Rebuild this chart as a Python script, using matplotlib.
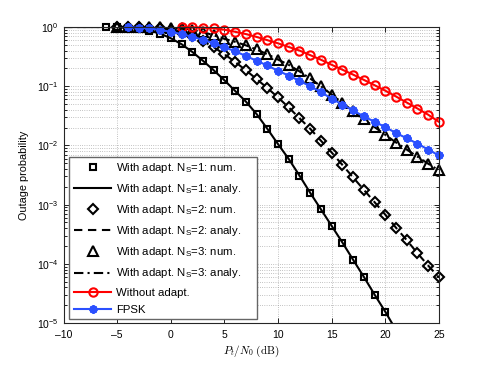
import matplotlib
matplotlib.use("Agg")
import matplotlib.pyplot as plt
from matplotlib.ticker import LogLocator, NullFormatter, FixedLocator

plt.rcParams['font.family'] = ['Liberation Sans', 'DejaVu Sans']
plt.rcParams['mathtext.fontset'] = 'custom'
plt.rcParams['mathtext.rm'] = 'Liberation Sans'
plt.rcParams['mathtext.it'] = 'Liberation Sans:italic'
plt.rcParams['mathtext.bf'] = 'Liberation Sans:bold'

# ---------------- data ----------------
x_ns1 = list(range(-6, 21))
ns1_num = [1.0, 0.99, 0.966, 0.933, 0.871, 0.776, 0.646, 0.513, 0.380, 0.269,
           0.186, 0.126, 0.0832, 0.0550, 0.0339, 0.0191, 0.0105, 0.00589,
           0.00309, 0.00158, 8.32e-4, 4.37e-4, 2.29e-4, 1.17e-4, 6.03e-5,
           3.02e-5, 1.55e-5]

x_ns1_an = list(range(-10, 22))
ns1_an = [1.0, 1.0, 1.0, 1.0, 1.0, 0.99, 0.966, 0.933, 0.871, 0.776, 0.646,
          0.513, 0.380, 0.269, 0.186, 0.126, 0.0832, 0.0550, 0.0339, 0.0191,
          0.0105, 0.00589, 0.00309, 0.00158, 8.32e-4, 4.37e-4, 2.29e-4,
          1.17e-4, 6.03e-5, 3.02e-5, 1.55e-5, 7.6e-6]

x_ns2 = list(range(-5, 26))
ns2_num = [1.0, 1.0, 0.99, 0.977, 0.944, 0.891, 0.794, 0.692, 0.575, 0.457,
           0.347, 0.257, 0.186, 0.132, 0.0933, 0.0646, 0.0437, 0.0288, 0.0191,
           0.0120, 0.00759, 0.00468, 0.00288, 0.00178, 0.00110, 6.76e-4,
           4.07e-4, 2.51e-4, 1.51e-4, 9.33e-5, 5.89e-5]

x_ns2_an = list(range(-10, 26))
ns2_an = [1.0, 1.0, 1.0, 1.0, 1.0, 1.0, 1.0, 0.99, 0.977, 0.944, 0.891, 0.794,
          0.692, 0.575, 0.457, 0.347, 0.257, 0.186, 0.132, 0.0933, 0.0646,
          0.0437, 0.0288, 0.0191, 0.0120, 0.00759, 0.00468, 0.00288, 0.00178,
          0.00110, 6.76e-4, 4.07e-4, 2.51e-4, 1.51e-4, 9.33e-5, 5.89e-5]

x_ns3 = list(range(-5, 26))
ns3_num = [1.0, 1.0, 1.0, 0.998, 0.995, 0.977, 0.955, 0.902, 0.822, 0.724,
           0.631, 0.562, 0.490, 0.417, 0.347, 0.282, 0.229, 0.178, 0.135, 0.1,
           0.0724, 0.0525, 0.038, 0.0275, 0.0204, 0.0151, 0.0112, 0.00851,
           0.00646, 0.0049, 0.0038]

x_ns3_an = list(range(-10, 26))
ns3_an = [1.0, 1.0, 1.0, 1.0, 1.0, 1.0, 1.0, 1.0, 0.998, 0.995, 0.977, 0.955,
          0.902, 0.822, 0.724, 0.631, 0.562, 0.490, 0.417, 0.347, 0.282,
          0.229, 0.178, 0.135, 0.1, 0.0724, 0.0525, 0.038, 0.0275, 0.0204,
          0.0151, 0.0112, 0.00851, 0.00646, 0.0049, 0.0038]

x_noad = list(range(1, 26))
noad = [1.0, 0.99, 0.975, 0.95, 0.9, 0.83, 0.76, 0.68, 0.6, 0.53, 0.46, 0.40,
        0.335, 0.28, 0.23, 0.19, 0.157, 0.128, 0.104, 0.084, 0.067, 0.053,
        0.042, 0.033, 0.025]

x_fpsk = list(range(-4, 26))
fpsk = [0.99, 0.973, 0.95, 0.891, 0.832, 0.759, 0.684, 0.61, 0.531, 0.457,
        0.389, 0.324, 0.269, 0.224, 0.182, 0.151, 0.123, 0.1, 0.0794, 0.0617,
        0.049, 0.0389, 0.0309, 0.0251, 0.0204, 0.0162, 0.0132, 0.0107,
        0.00851, 0.00676]

x_ticks = [-10, -5, 0, 5, 10, 15, 20, 25]
y_ticks = [1e-5, 1e-4, 1e-3, 1e-2, 1e-1, 1e0]
y_ticklabels = [r'$10^{-5}$', r'$10^{-4}$', r'$10^{-3}$', r'$10^{-2}$',
                r'$10^{-1}$', r'$10^{0}$']

labels = ['With adapt. N$_\\mathrm{S}$=1: num.',
          'With adapt. N$_\\mathrm{S}$=1: analy.',
          'With adapt. N$_\\mathrm{S}$=2: num.',
          'With adapt. N$_\\mathrm{S}$=2: analy.',
          'With adapt. N$_\\mathrm{S}$=3: num.',
          'With adapt. N$_\\mathrm{S}$=3: analy.',
          'Without adapt.',
          'FPSK']

# ---------------- figure ----------------
fig = plt.figure(figsize=(4.85, 3.65), dpi=100)
ax = fig.add_axes([0.131, 0.115, 0.774, 0.811])

blue = '#2b50ff'
lw = 1.5

h_an1, = ax.plot(x_ns1_an, ns1_an, '-', color='k', lw=lw)
h_an2, = ax.plot(x_ns2_an, ns2_an, color='k', lw=lw, linestyle=(0, (4, 2.7)))
h_an3, = ax.plot(x_ns3_an, ns3_an, color='k', lw=lw,
                 linestyle=(0, (4.5, 2, 1, 2)))
h_s, = ax.plot(x_ns1, ns1_num, 's', ms=5.0, mfc='none', mec='k', mew=1.5,
               linestyle='none', clip_on=False)
h_d, = ax.plot(x_ns2, ns2_num, 'D', ms=4.6, mfc='none', mec='k', mew=1.5,
               linestyle='none', clip_on=False)
h_t, = ax.plot(x_ns3, ns3_num, '^', ms=6.5, mfc='none', mec='k', mew=1.5,
               linestyle='none', clip_on=False)
h_r, = ax.plot(x_noad, noad, '-o', color='red', lw=lw, ms=6.0, mfc='none',
               mec='red', mew=1.5, clip_on=False)
h_b, = ax.plot(x_fpsk, fpsk, '-', color=blue, lw=lw, marker=(8, 2, 0),
               ms=6.0, mfc=blue, mec=blue, mew=1.6, clip_on=False)

ax.set_yscale('log')
ax.set_xlim(-10, 25)
ax.set_ylim(1e-5, 1)
ax.xaxis.set_major_locator(FixedLocator(x_ticks))
ax.set_xticklabels([str(v).replace('-', '\u2013') for v in x_ticks])
ax.yaxis.set_major_locator(FixedLocator(y_ticks))
ax.set_yticklabels(y_ticklabels)
ax.yaxis.set_minor_locator(LogLocator(base=10, subs=range(2, 10), numticks=20))
ax.yaxis.set_minor_formatter(NullFormatter())

ax.tick_params(which='both', direction='in', top=True, right=True,
               labelsize=7.5, width=0.6, color='k')
ax.tick_params(which='major', length=3.5)
ax.tick_params(which='minor', length=2)
ax.tick_params(axis='x', pad=5)

grid_kw = dict(linestyle=(0, (1, 2.2)), color='0.55', lw=0.5)
ax.grid(True, which='major', **grid_kw)
ax.grid(True, which='minor', axis='y', **grid_kw)
for s in ax.spines.values():
    s.set_linewidth(0.8)
    s.set_color('0.15')

ax.set_xlabel(r'$P_t/N_0\ \mathrm{(dB)}$', math_fontfamily='cm', fontsize=8,
              labelpad=3)
ax.set_ylabel('Outage probability', fontsize=7.8, labelpad=6)

leg = ax.legend([h_s, h_an1, h_d, h_an2, h_t, h_an3, h_r, h_b], labels,
                loc='lower left', bbox_to_anchor=(0.015, 0.013, 0.5, 0.5),
                mode='expand', borderaxespad=0, fontsize=8.2, fancybox=False,
                framealpha=1, edgecolor='0.4', handlelength=3.3,
                handletextpad=0.4, labelspacing=0.62, borderpad=0.4)
leg.get_frame().set_linewidth(1.0)

fig.savefig('out.png', dpi=100)
